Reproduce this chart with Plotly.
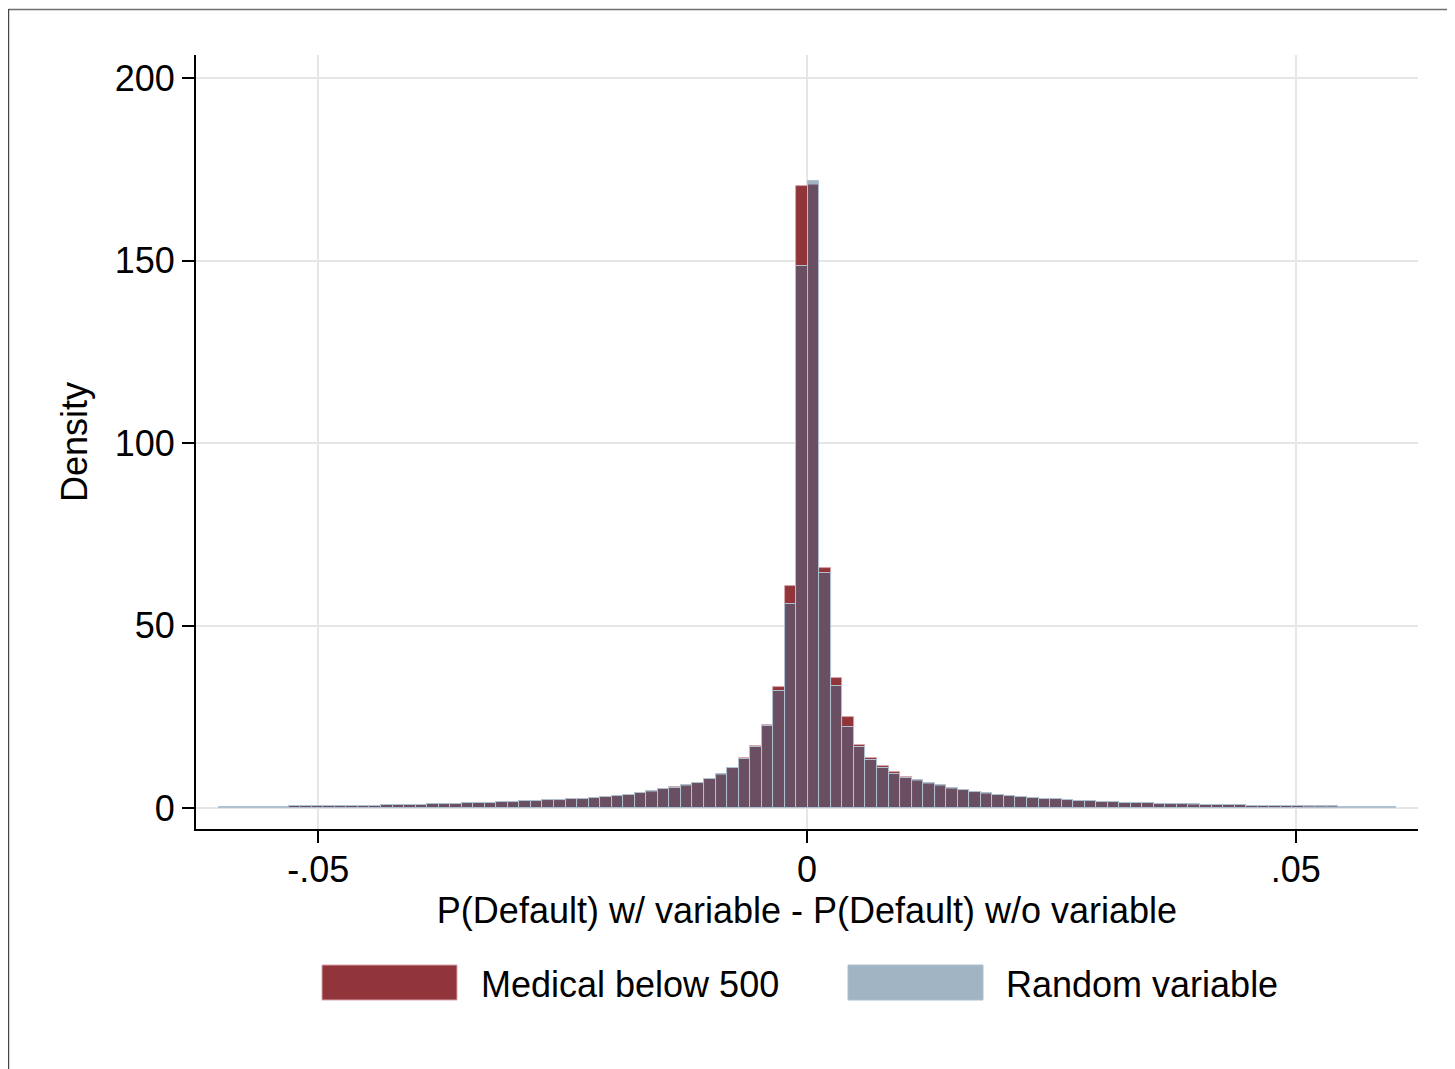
import plotly.graph_objects as go

# Histogram binning
bin_start = -0.0601
bin_width = 0.00118
n_bins = 102

# Densities per bin, k = -51 .. 50
random_variable = [
    0.3, 0.3, 0.3, 0.35, 0.35, 0.4, 0.45, 0.45, 0.5, 0.5,
    0.55, 0.6, 0.6, 0.65, 0.7, 0.75, 0.8, 0.85, 1.05, 1.1,
    1.15, 1.35, 1.4, 1.45, 1.65, 1.7, 1.95, 2.0, 2.1, 2.25,
    2.5, 2.55, 2.8, 3.05, 3.3, 3.65, 4.1, 4.6, 5.15, 5.6,
    6.2, 6.95, 7.85, 9.25, 11.0, 13.4, 16.7, 22.4, 32.0, 55.9,
    148.5,
    171.8, 64.3, 33.4, 22.3, 16.6, 13.2, 11.0, 9.3, 8.3, 7.7,
    6.9, 6.2, 5.5, 4.95, 4.5, 4.0, 3.7, 3.35, 3.05, 2.8,
    2.6, 2.45, 2.3, 2.05, 1.9, 1.75, 1.65, 1.5, 1.4, 1.35,
    1.2, 1.1, 1.1, 1.0, 0.9, 0.85, 0.8, 0.75, 0.65, 0.65,
    0.6, 0.55, 0.55, 0.45, 0.45, 0.45, 0.4, 0.35, 0.3, 0.3,
    0.3,
]
medical_below_500 = [
    None, None, None, None, None, 0.4, 0.45, 0.45, 0.5, 0.5,
    0.55, 0.6, 0.6, 0.6, 0.7, 0.7, 0.8, 0.8, 1.0, 1.1,
    1.1, 1.3, 1.4, 1.4, 1.6, 1.7, 1.9, 1.95, 2.1, 2.3,
    2.45, 2.5, 2.75, 3.1, 3.25, 3.6, 4.0, 4.5, 5.1, 5.65,
    6.1, 6.8, 8.0, 9.0, 10.9, 13.6, 17.1, 22.7, 33.2, 60.8,
    170.5,
    170.7, 65.8, 35.6, 24.8, 17.3, 13.7, 11.5, 9.9, 8.6, 7.5,
    6.6, 6.0, 5.3, 4.8, 4.4, 3.9, 3.6, 3.3, 3.0, 2.7,
    2.55, 2.4, 2.25, 2.0, 1.85, 1.7, 1.6, 1.45, 1.35, 1.3,
    1.15, 1.05, 1.05, 0.95, 0.85, 0.8, 0.75, 0.7, 0.6, 0.6,
    0.55, 0.5, 0.5, 0.4, 0.4, 0.4, None, None, None, None,
    None,
]

x_tickvals = [-0.05, 0, 0.05]
x_ticktext = ["-.05", "0", ".05"]
y_tickvals = [0, 50, 100, 150, 200]
y_ticktext = ["0", "50", "100", "150", "200"]

series_names = ["Medical below 500", "Random variable"]
RED = "#91353B"
BLUE_T = "rgba(65,105,135,0.5)"

centers = [bin_start + bin_width * (i + 0.5) for i in range(n_bins)]

FONT = "Liberation Sans, Arial, Helvetica, sans-serif"
FS = 36

fig = go.Figure()
fig.add_trace(go.Bar(
    x=centers, y=medical_below_500, width=bin_width, name=series_names[0],
    marker=dict(color=RED, line=dict(color="rgba(215,165,170,1)", width=0.8)),
    showlegend=False,
))
fig.add_trace(go.Bar(
    x=centers, y=random_variable, width=bin_width, name=series_names[1],
    marker=dict(color=BLUE_T, line=dict(color="rgba(175,192,206,1)", width=1)),
    showlegend=False,
))

OFF = 8  # page body margin
W, H = 1455 - OFF, 1069 - OFF
L, R, T, B = 196 - OFF, 37, 55 - OFF, 240
pw, ph = W - L - R, H - T - B

def px(x):
    return (x - OFF - L) / pw

def py(y):
    return (H - B - (y - OFF)) / ph

shapes = [
    # outer frame
    dict(type="line", xref="paper", yref="paper", x0=px(8.5), x1=px(1470), y0=py(9.5), y1=py(9.5),
         line=dict(color="#6e6e6e", width=1.5)),
    dict(type="line", xref="paper", yref="paper", x0=px(8.6), x1=px(8.6), y0=py(9), y1=py(1080),
         line=dict(color="#444444", width=1.2)),
    # legend swatches
    dict(type="rect", xref="paper", yref="paper", x0=px(322), x1=px(457), y0=py(1000), y1=py(965),
         fillcolor=RED, line=dict(color="rgba(215,165,170,1)", width=1)),
    dict(type="rect", xref="paper", yref="paper", x0=px(848), x1=px(983), y0=py(1000), y1=py(965),
         fillcolor=BLUE_T, line=dict(color="rgba(175,192,206,1)", width=1)),
]
annotations = [
    dict(text=series_names[0], xref="paper", yref="paper", x=px(479), y=py(984),
         xanchor="left", yanchor="middle", showarrow=False, font=dict(size=FS, color="black", family=FONT)),
    dict(text=series_names[1], xref="paper", yref="paper", x=px(1004), y=py(984),
         xanchor="left", yanchor="middle", showarrow=False, font=dict(size=FS, color="black", family=FONT)),
]

fig.update_layout(
    width=W, height=H,
    margin=dict(l=L, r=R, t=T, b=B, pad=0),
    paper_bgcolor="white", plot_bgcolor="white",
    barmode="overlay", bargap=0,
    font=dict(family=FONT, size=FS, color="black"),
    shapes=shapes, annotations=annotations,
    xaxis=dict(
        range=[-0.0625, 0.0625], tickvals=x_tickvals, ticktext=x_ticktext,
        showgrid=True, gridcolor="#e6e6e6", gridwidth=1.5,
        showline=True, linecolor="black", linewidth=2, mirror=False,
        ticks="outside", ticklen=12, tickwidth=2, tickcolor="black",
        tickfont=dict(size=FS), zeroline=False, ticklabelstandoff=-4,
        title=dict(text="P(Default) w/ variable - P(Default) w/o variable", font=dict(size=FS), standoff=2),
    ),
    yaxis=dict(
        range=[-5.75, 206.3], tickvals=y_tickvals, ticktext=y_ticktext,
        showgrid=True, gridcolor="#e6e6e6", gridwidth=1.5,
        showline=True, linecolor="black", linewidth=2,
        ticks="outside", ticklen=12, tickwidth=2, tickcolor="black",
        tickfont=dict(size=FS), zeroline=False,
        title=dict(text="Density", font=dict(size=FS), standoff=16),
    ),
)

fig.write_html("out.html")
